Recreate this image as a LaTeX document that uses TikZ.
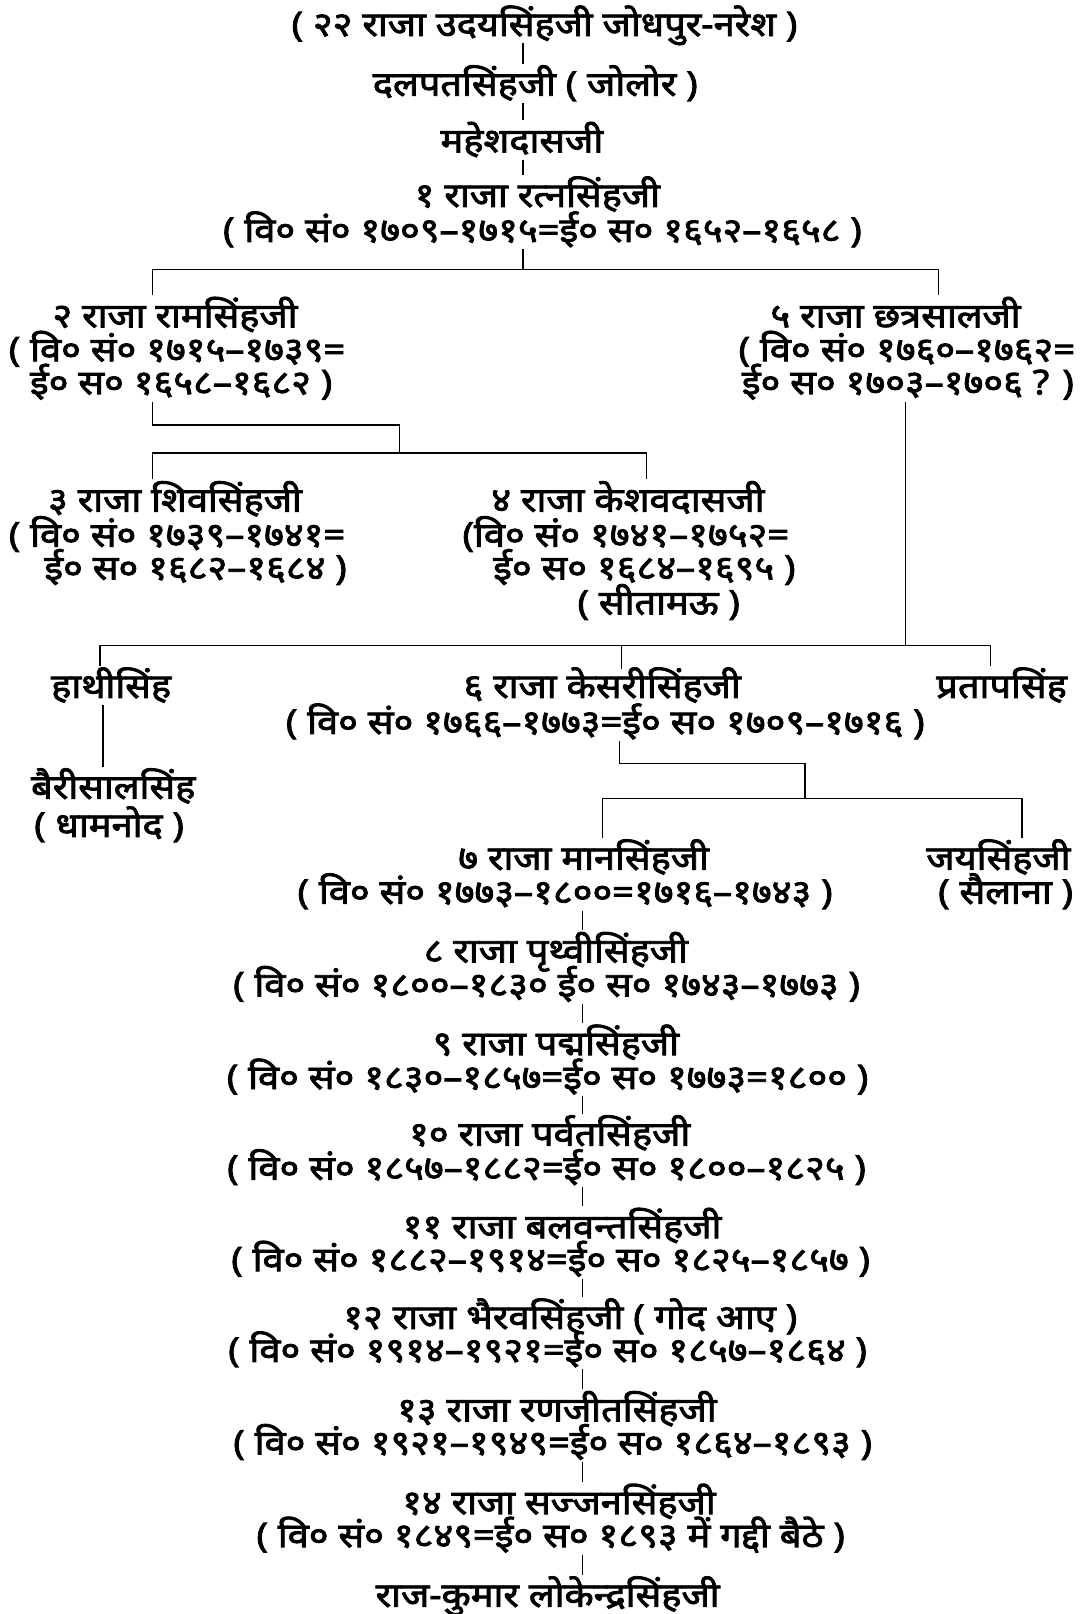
\documentclass[tikz,border=0pt]{standalone}
\usepackage{fontspec}
\newfontfamily\dev[Script=Devanagari, FakeStretch=1.12, FakeBold=2.5]{Noto Sans}
\begin{document}
\begin{tikzpicture}[x=1pt,y=-1pt,
  t/.style={font=\dev\fontsize{33}{36}\selectfont, inner sep=0pt, text height=26pt, text depth=0pt},
  ln/.style={line width=1.3pt, line cap=butt},
  stem/.style={ln, shorten <=7pt, shorten >=5pt}]
\fill[white] (0,0) rectangle (1059,1568);
\useasboundingbox (0,0) rectangle (1059,1568);
% top column
\node[t] (a1) at (529,22) {( २२ राजा उदयसिंहजी जोधपुर-नरेश )};
\node[t] (a2) at (520,80) {दलपतसिंहजी ( जोलोर )};
\node[t] (a3) at (507,135) {महेशदासजी};
\node[t] (a4) at (522,188) {१ राजा रत्नसिंहजी};
\node[t] (a5) at (527,222) {( वि० सं० १७०९–१७१५=ई० स० १६५२–१६५८ )};
% second generation
\node[t] (b1) at (170,305) {२ राजा रामसिंहजी};
\node[t] (b2) at (172,338) {( वि० सं० १७१५–१७३९=};
\node[t] (b3) at (176,370) {ई० स० १६५८–१६८२ )};
\node[t] (c1) at (870,305) {५ राजा छत्रसालजी};
\node[t] (c2) at (881,338) {( वि० सं० १७६०–१७६२=};
\node[t] (c3) at (882,370) {ई० स० १७०३–१७०६ ? )};
% third generation
\node[t] (d1) at (170,484) {३ राजा शिवसिंहजी};
\node[t] (d2) at (172,518) {( वि० सं० १७३९–१७४१=};
\node[t] (d3) at (190,550) {ई० स० १६८२–१६८४ )};
\node[t] (e1) at (610,484) {४ राजा केशवदासजी};
\node[t] (e2) at (608,518) {(वि० सं० १७४१–१७५२=};
\node[t] (e3) at (626,550) {ई० स० १६८४–१६९५ )};
\node[t] (e4) at (640,584) {( सीतामऊ )};
% fourth
\node[t] (f1) at (108,665) {हाथीसिंह};
\node[t] (f2) at (110,763) {बैरीसालसिंह};
\node[t] (f3) at (106,800) {( धामनोद )};
\node[t] (g1) at (585,665) {६ राजा केसरीसिंहजी};
\node[t] (g2) at (588,700) {( वि० सं० १७६६–१७७३=ई० स० १७०९–१७१६ )};
\node[t] (h1) at (973,665) {प्रतापसिंह};
% fifth
\node[t] (i1) at (567,832) {७ राजा मानसिंहजी};
\node[t] (i2) at (549,865) {( वि० सं० १७७३–१८००=१७१६–१७४३ )};
\node[t] (j1) at (970,832) {जयसिंहजी};
\node[t] (j2) at (977,865) {( सैलाना )};
% main line
\node[t] (k1) at (540,922) {८ राजा पृथ्वीसिंहजी};
\node[t] (k2) at (531,955) {( वि० सं० १८००–१८३० ई० स० १७४३–१७७३ )};
\node[t] (l1) at (540,1012) {९ राजा पद्मसिंहजी};
\node[t] (l2) at (532,1045) {( वि० सं० १८३०–१८५७=ई० स० १७७३=१८०० )};
\node[t] (m1) at (534,1100) {१० राजा पर्वतसिंहजी};
\node[t] (m2) at (531,1133) {( वि० सं० १८५७–१८८२=ई० स० १८००–१८२५ )};
\node[t] (n1) at (546,1190) {११ राजा बलवन्तसिंहजी};
\node[t] (n2) at (535,1222) {( वि० सं० १८८२–१९१४=ई० स० १८२५–१८५७ )};
\node[t] (o1) at (554,1278) {१२ राजा भैरवसिंहजी ( गोद आए )};
\node[t] (o2) at (532,1310) {( वि० सं० १९१४–१९२१=ई० स० १८५७–१८६४ )};
\node[t] (p1) at (541,1368) {१३ राजा रणजीतसिंहजी};
\node[t] (p2) at (537,1400) {( वि० सं० १९२१–१९४९=ई० स० १८६४–१८९३ )};
\node[t] (q1) at (543,1458) {१४ राजा सज्जनसिंहजी};
\node[t] (q2) at (535,1490) {( वि० सं० १८४९=ई० स० १८९३ में गद्दी बैठे )};
\node[t] (r1) at (532,1548) {राज-कुमार लोकेन्द्रसिंहजी};
% junction coordinates
\coordinate (xa) at (508,0);
\coordinate (jA) at (508,262);
\coordinate (jAL) at (148,262);
\coordinate (jAR) at (912,262);
\coordinate (jB) at (148,413);
\coordinate (jBR) at (388,413);
\coordinate (jC) at (388,440);
\coordinate (jCL) at (148,440);
\coordinate (jCR) at (628,440);
\coordinate (jD) at (880,627);
\coordinate (jDL) at (97,627);
\coordinate (jDM) at (604,627);
\coordinate (jDR) at (962,627);
\coordinate (xf) at (100,0);
\coordinate (jE) at (602,742);
\coordinate (jER) at (782,742);
\coordinate (jF) at (782,776);
\coordinate (jFL) at (585,776);
\coordinate (jFR) at (993,776);
\coordinate (xm) at (566,0);
% connectors
\draw[stem] (a1.south -| xa) -- (a2.north -| xa);
\draw[stem] (a2.south -| xa) -- (a3.north -| xa);
\draw[stem] (a3.south -| xa) -- (a4.north -| xa);
\draw[ln] ([yshift=-7pt]a5.south -| jA) -- (jA);
\draw[ln] ([yshift=5pt]b1.north -| jAL) -- (jAL) -- (jAR) -- ([yshift=5pt]c1.north -| jAR);
\draw[ln] ([yshift=-7pt]b3.south -| jB) -- (jB) -- (jBR) -- (jC);
\draw[ln] ([yshift=5pt]d1.north -| jCL) -- (jCL) -- (jCR) -- ([yshift=5pt]e1.north -| jCR);
\draw[ln] ([yshift=-7pt]c3.south -| jD) -- (jD);
\draw[ln] ([yshift=5pt]f1.north -| jDL) -- (jDL) -- (jDR) -- ([yshift=5pt]h1.north -| jDR);
\draw[ln] (jDM) -- ([yshift=2pt]g1.north -| jDM);
\draw[stem] (f1.south -| xf) -- (f2.north -| xf);
\draw[ln] ([yshift=-7pt]g2.south -| jE) -- (jE) -- (jER) -- (jF);
\draw[ln] ([yshift=5pt]i1.north -| jFL) -- (jFL) -- (jFR) -- ([yshift=5pt]j1.north -| jFR);
\draw[stem] (i2.south -| xm) -- (k1.north -| xm);
\draw[stem] (k2.south -| xm) -- (l1.north -| xm);
\draw[stem] (l2.south -| xm) -- (m1.north -| xm);
\draw[stem] (m2.south -| xm) -- (n1.north -| xm);
\draw[stem] (n2.south -| xm) -- (o1.north -| xm);
\draw[stem] (o2.south -| xm) -- (p1.north -| xm);
\draw[stem] (p2.south -| xm) -- (q1.north -| xm);
\draw[stem] (q2.south -| xm) -- (r1.north -| xm);
\end{tikzpicture}
\end{document}
